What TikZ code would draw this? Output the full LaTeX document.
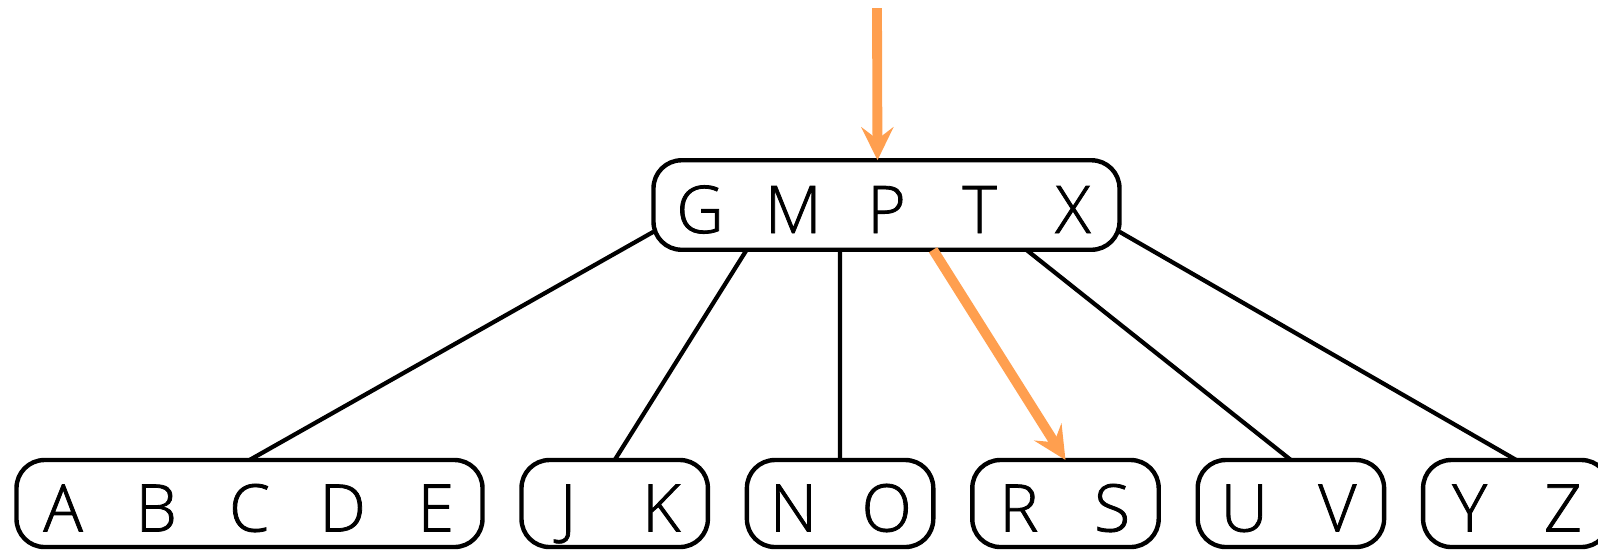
\documentclass[tikz,border=0pt]{standalone}
\usepackage{fontspec}
\setmainfont{Open Sans Light}[FakeBold=1.2]
\usetikzlibrary{arrows.meta, positioning, calc}
\definecolor{ptrorange}{HTML}{FF9F4F}
\newcommand{\keyrow}[1]{\foreach \ltr in {#1}{\makebox[9.32mm]{\ltr}}}

\begin{document}
\begin{tikzpicture}[font=\fontsize{18.7}{22}\selectfont,
  keynode/.style={draw, line width=1.25pt, rounded corners=0.28cm, inner xsep=0pt, inner ysep=0pt, outer sep=0pt, minimum height=0.87cm, text height=0.56cm, text depth=0pt},
  edge/.style={line width=1.2pt},
  ptr/.style={ptrorange, line width=2.8pt, -{Stealth[length=0.33cm, width=0.32cm, inset=0.12cm]}}]
\useasboundingbox (0,0) rectangle (15.98,-5.5);
\node[keynode, minimum height=0.895cm] (root) at (8.865,-2.05) {\keyrow{G,M,P,T,X}};
\node[keynode] (abcde) at (2.495,-5.035) {\keyrow{A,B,C,D,E}};
\node[keynode, right=0.39cm of abcde] (jk) {\keyrow{J,K}};
\node[keynode, right=0.39cm of jk] (no) {\keyrow{N,O}};
\node[keynode, right=0.39cm of no] (rs) {\keyrow{R,S}};
\node[keynode, right=0.39cm of rs] (uv) {\keyrow{U,V}};
\node[keynode, right=0.39cm of uv] (yz) {\keyrow{Y,Z}};
% child pointers of the root
\coordinate (p0) at ($(root.south west)+(0,0.18)$);
\coordinate (p5) at ($(root.south east)+(0,0.18)$);
\foreach \i in {1,...,4}
  \coordinate (p\i) at ($(root.south west)!\i/5!(root.south east)$);
\foreach \a/\b in {p0/abcde, p1/jk, p2/no, p4/uv, p5/yz}
  \draw[edge] (\a) -- (\b.north);
% search path
\coordinate (entry) at (8.77,-0.08);
\coordinate (hit) at ([xshift=-0.09cm]root.north);
\draw[ptr] (entry) -- (hit);
\draw[ptr] (p3) -- (rs.north);
\end{tikzpicture}
\end{document}
